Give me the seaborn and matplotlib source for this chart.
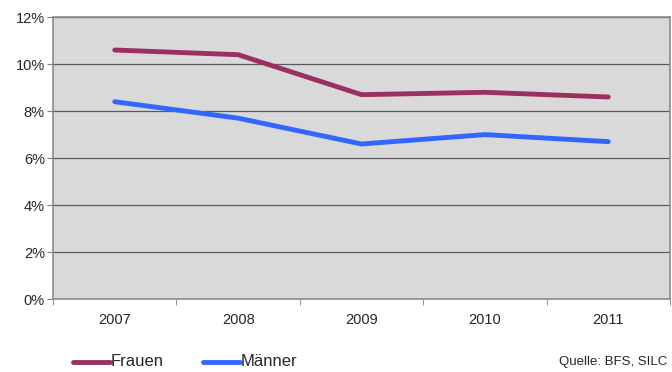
import matplotlib
matplotlib.use("Agg")
import matplotlib.pyplot as plt
import seaborn as sns
import pandas as pd
import numpy as np

years = ["2007", "2008", "2009", "2010", "2011"]
frauen = [10.6, 10.4, 8.7, 8.8, 8.6]
maenner = [8.4, 7.7, 6.6, 7.0, 6.7]
y_ticks = [0, 2, 4, 6, 8, 10, 12]

df = pd.DataFrame({"Jahr": years * 2,
                   "Wert": frauen + maenner,
                   "Gruppe": ["Frauen"] * 5 + ["Männer"] * 5})

sns.set_style("white")
plt.rcParams["font.family"] = ["Liberation Sans", "DejaVu Sans"]

fig = plt.figure(figsize=(6.72, 3.72), dpi=100)
ax = fig.add_axes([0.079, 0.196, 0.918, 0.758])
ax.set_facecolor("#d9d9d9")

sns.lineplot(data=df, x="Jahr", y="Wert", hue="Gruppe",
             palette={"Frauen": "#9c2f62", "Männer": "#3366ff"},
             linewidth=3.5, ax=ax, legend=False, sort=False)

ax.set_xlim(-0.5, 4.5)
ax.set_ylim(0, 12)
ax.set_yticks(y_ticks)
ax.set_yticklabels([f"{t}%" for t in y_ticks], fontsize=10.5)
ax.set_xticks(range(len(years)))
ax.set_xticklabels(years, fontsize=10.5)
ax.tick_params(axis="x", length=0, pad=10)
ax.tick_params(axis="y", length=4, direction="out", color="#808080", pad=2, left=True)
ax.set_xticks(np.arange(-0.5, 5, 1), minor=True)
ax.tick_params(axis="x", which="minor", length=4, direction="out", color="#808080", bottom=True)
ax.grid(axis="y", color="#5a5a5a", linewidth=0.9)
ax.set_axisbelow(True)
ax.set_xlabel("")
ax.set_ylabel("")
for s in ax.spines.values():
    s.set_color("#8c8c8c")
    s.set_linewidth(1.2)

# legend below the chart
ly = 0.027
fig.lines.append(plt.Line2D([0.109, 0.164], [ly, ly], color="#9c2f62", linewidth=3.5, transform=fig.transFigure))
fig.text(0.165, ly, "Frauen", fontsize=12, va="center")
fig.lines.append(plt.Line2D([0.302, 0.357], [ly, ly], color="#3366ff", linewidth=3.5, transform=fig.transFigure))
fig.text(0.358, ly, "Männer", fontsize=12, va="center")
fig.text(0.993, ly, "Quelle: BFS, SILC", fontsize=9.5, va="center", ha="right")

fig.savefig("out.png", dpi=100)
